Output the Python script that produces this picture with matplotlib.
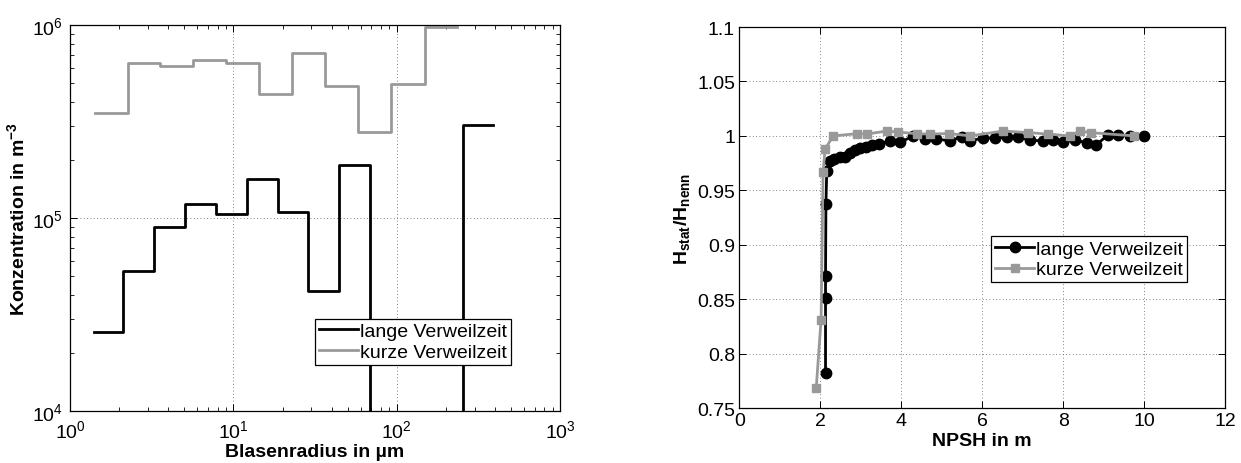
import numpy as np
import matplotlib
matplotlib.use("Agg")
import matplotlib.pyplot as plt
from matplotlib.ticker import FuncFormatter, LogLocator, NullFormatter

plt.rcParams["font.family"] = ["Liberation Sans", "DejaVu Sans"]
plt.rcParams["mathtext.fontset"] = "custom"
plt.rcParams["mathtext.rm"] = "Liberation Sans"
plt.rcParams["mathtext.bf"] = "Liberation Sans:bold"
plt.rcParams["font.size"] = 14

# Left: bubble size distribution (step histograms)
lang_edges = [1.41, 2.12, 3.27, 5.06, 7.83, 12.1, 18.7, 28.8, 44.4, 68.7, 106, 164, 253, 388]
lang_conc = [2.58e4, 5.3e4, 8.98e4, 1.18e5, 1.045e5, 1.59e5, 1.08e5, 4.19e4, 1.89e5, 0, 0, 0, 3.03e5]

kurz_edges = [1.42, 2.26, 3.56, 5.69, 9.02, 14.4, 23.0, 36.4, 58.2, 92.4, 148, 233]
kurz_conc = [3.5e5, 6.36e5, 6.15e5, 6.56e5, 6.36e5, 4.39e5, 7.19e5, 4.81e5, 2.78e5, 4.93e5, 9.75e5]

# Right: head drop curves
lang_npsh = [2.13, 2.13, 2.13, 2.14, 2.16, 2.23, 2.34, 2.49, 2.61, 2.73, 2.86, 2.98,
             3.13, 3.27, 3.45, 3.72, 3.97, 4.30, 4.59, 4.87, 5.20, 5.49, 5.70, 6.03,
             6.31, 6.60, 6.89, 7.18, 7.51, 7.75, 8.00, 8.29, 8.58, 8.82, 9.11, 9.36,
             9.65, 10.0]
lang_h = [0.782, 0.851, 0.871, 0.937, 0.968, 0.977, 0.979, 0.981, 0.981, 0.984, 0.987, 0.989,
          0.990, 0.992, 0.993, 0.995, 0.994, 1.000, 0.997, 0.997, 0.9956, 0.999, 0.9956, 0.998,
          0.998, 0.9987, 0.9987, 0.9965, 0.995, 0.9965, 0.994, 0.9965, 0.9934, 0.992, 1.001, 1.001,
          1.000, 1.000]

kurz_npsh = [1.90, 2.02, 2.07, 2.12, 2.32, 2.90, 3.15, 3.64, 3.93, 4.38, 4.71, 5.19,
             5.70, 6.52, 7.14, 7.63, 8.16, 8.41, 8.68, 9.75]
kurz_h = [0.768, 0.831, 0.967, 0.988, 1.000, 1.002, 1.0017, 1.0045, 1.0035, 1.002, 1.0017, 1.0022,
          1.000, 1.0045, 1.003, 1.0017, 1.000, 1.0045, 1.003, 1.000]

gray = "0.6"
grid_kw = dict(color="0.35", linestyle=(0, (1, 3)), linewidth=0.6)

fig = plt.figure(figsize=(12.41, 4.64), dpi=100)

# ---- left plot
ax1 = fig.add_axes([0.0564, 0.112, 0.395, 0.832])
ax1.set_xscale("log")
ax1.set_yscale("log", nonpositive="clip")
ax1.step(lang_edges, lang_conc + [lang_conc[-1]], where="post", color="black",
         lw=2.0, label="lange Verweilzeit")
ax1.step(kurz_edges, kurz_conc + [kurz_conc[-1]], where="post", color=gray,
         lw=2.0, label="kurze Verweilzeit")
ax1.set_xlim(1, 1000)
ax1.set_ylim(1e4, 1e6)
ax1.xaxis.set_minor_locator(LogLocator(base=10, subs=np.arange(2, 10)))
ax1.yaxis.set_minor_locator(LogLocator(base=10, subs=np.arange(2, 10)))
ax1.xaxis.set_minor_formatter(NullFormatter())
ax1.yaxis.set_minor_formatter(NullFormatter())
ax1.grid(True, which="major", **grid_kw)
ax1.set_xlabel("Blasenradius in µm", fontweight="bold", labelpad=1)
ax1.set_ylabel(r"Konzentration in m$^{\mathbf{-3}}$", fontweight="bold", labelpad=2)
leg1 = ax1.legend(loc="lower left", bbox_to_anchor=(0.5, 0.12, 0.4, 0.14), fancybox=False,
                  edgecolor="black", framealpha=1, handlelength=2.0, handletextpad=0.1,
                  borderpad=0.2, labelspacing=0.15, borderaxespad=0)
leg1.get_frame().set_linewidth(0.9)

# ---- right plot
ax2 = fig.add_axes([0.5957, 0.1185, 0.3916, 0.821])
ax2.plot(lang_npsh, lang_h, color="black", lw=2.0, marker="o", ms=7.5,
         label="lange Verweilzeit")
ax2.plot(kurz_npsh, kurz_h, color=gray, lw=2.0, marker="s", ms=6,
         label="kurze Verweilzeit")
ax2.set_xlim(0, 12)
ax2.set_ylim(0.75, 1.1)
ax2.set_xticks(np.arange(0, 13, 2))
ax2.set_yticks(np.arange(0.75, 1.101, 0.05))
ax2.yaxis.set_major_formatter(FuncFormatter(lambda v, p: f"{v:g}"))
ax2.grid(True, **grid_kw)
ax2.set_xlabel("NPSH in m", fontweight="bold", labelpad=2)
ax2.set_ylabel(r"$\mathbf{H_{stat}/H_{nenn}}$", labelpad=4)
leg2 = ax2.legend(loc="lower left", bbox_to_anchor=(0.519, 0.33, 0.4, 0.14), fancybox=False,
                  edgecolor="black", framealpha=1, handlelength=2.0, handletextpad=0.1,
                  borderpad=0.2, labelspacing=0.15, borderaxespad=0)
leg2.get_frame().set_linewidth(0.9)

for ax in (ax1, ax2):
    ax.tick_params(which="both", direction="in", top=True, right=True, pad=3)
    ax.tick_params(which="major", length=5, width=0.7)
    ax.tick_params(which="minor", length=3, width=0.6)
    for s in ax.spines.values():
        s.set_linewidth(0.9)
    ax.set_axisbelow(True)

ax1.tick_params(axis="x", which="major", pad=6)
ax1.tick_params(axis="y", which="major", pad=5)

fig.savefig("out.png", dpi=100)
